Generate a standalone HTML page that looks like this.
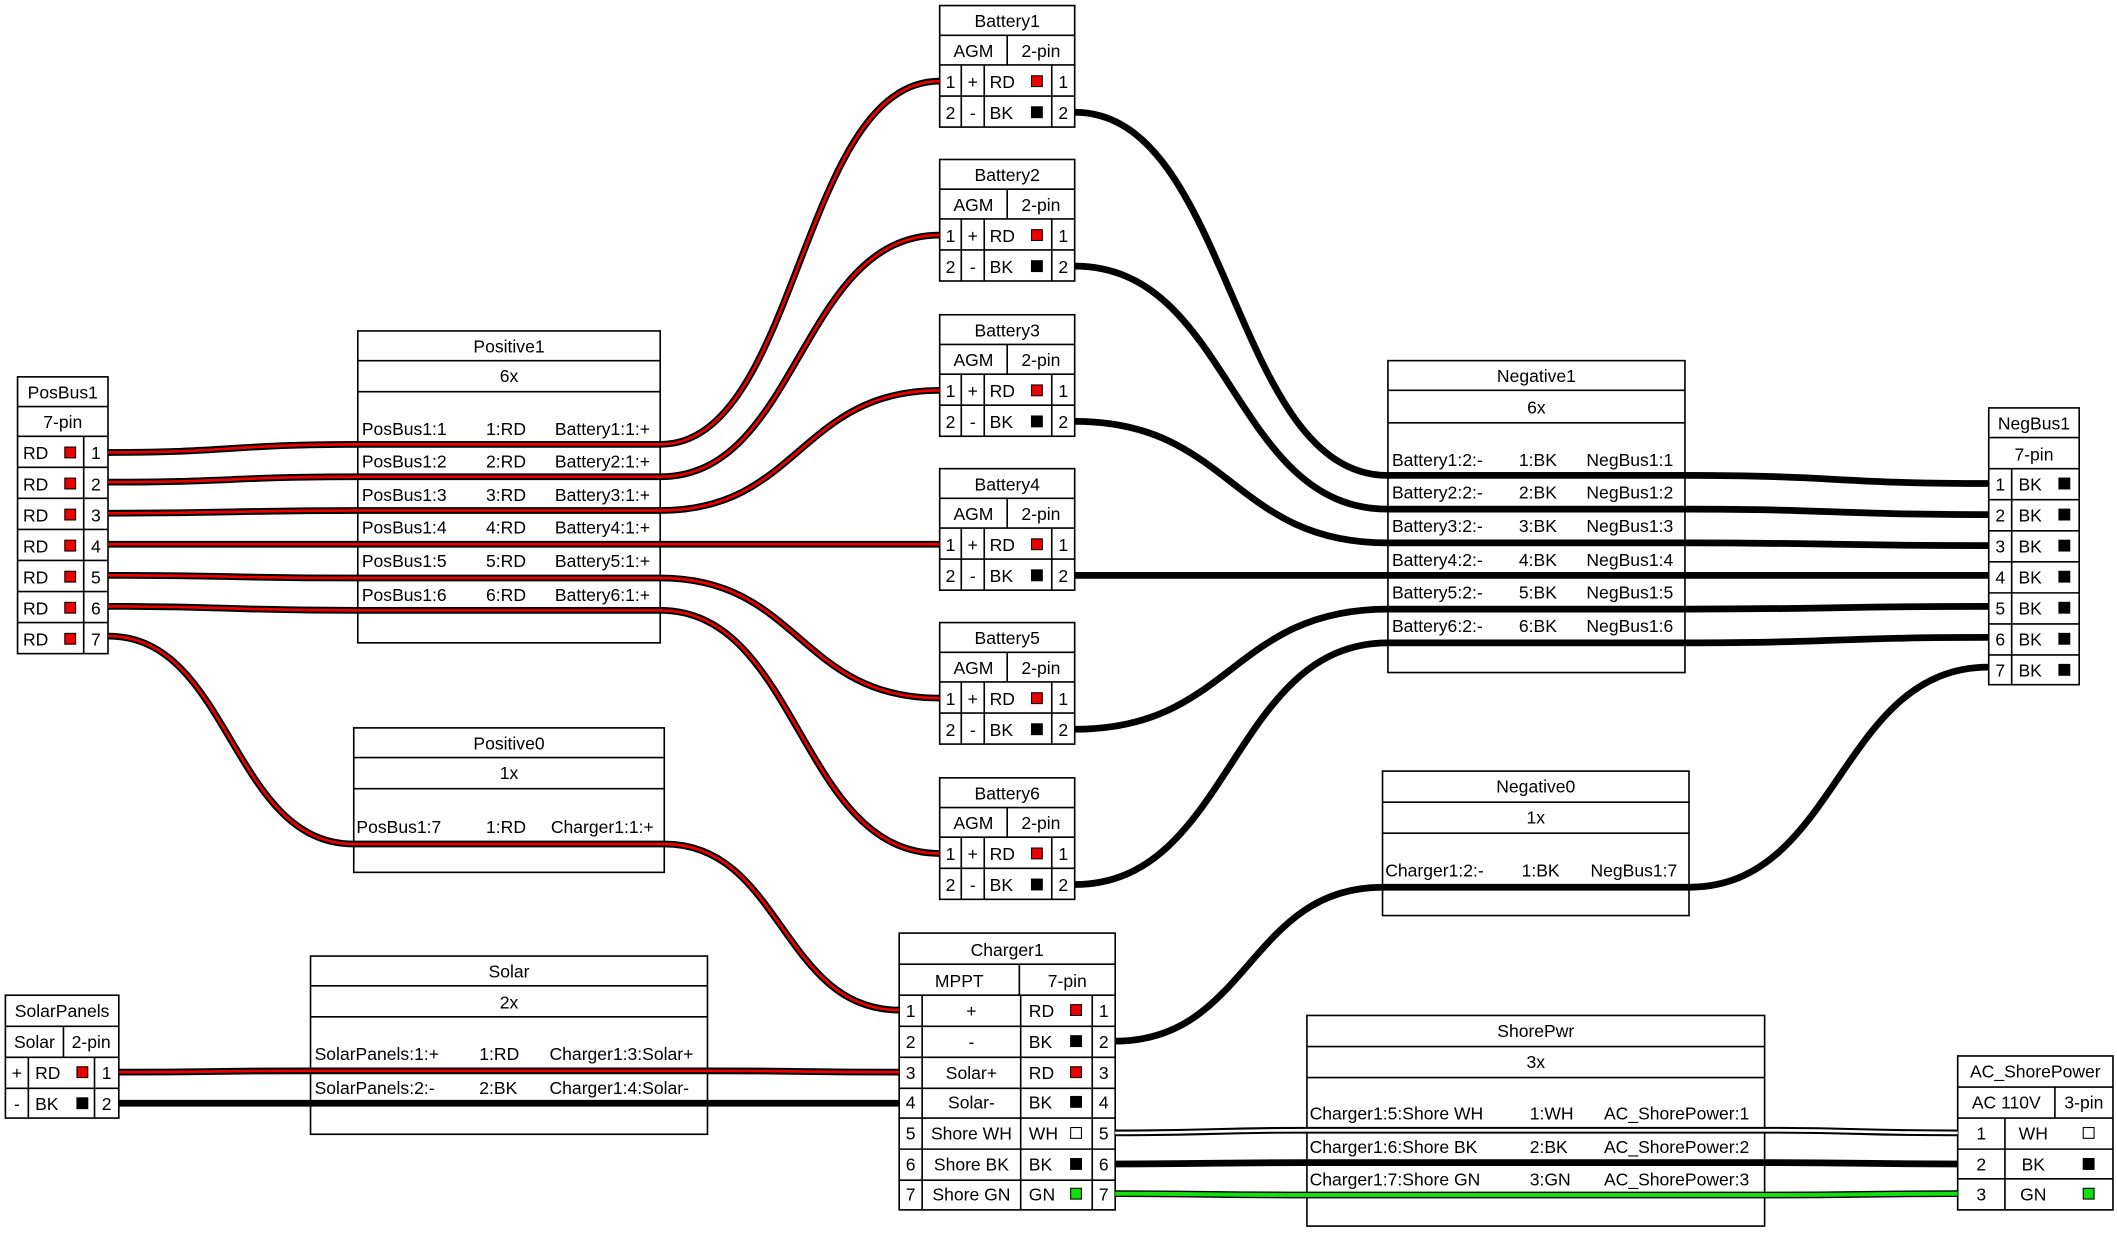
<!DOCTYPE html>
<html><head><meta charset="utf-8"><style>
html,body{margin:0;padding:0;background:#fff}
svg{display:block}
text{font-family:"Liberation Sans",Arial,sans-serif;font-size:13px;fill:#000}
.b{fill:#fff;stroke:#000;stroke-width:1.2}
.l{stroke:#000;stroke-width:1.2;fill:none}
.wo{fill:none;stroke:#000;stroke-width:5}
.wr{fill:none;stroke:#e00;stroke-width:2}
.ww{fill:none;stroke:#fff;stroke-width:2}
.wg{fill:none;stroke:#1d1;stroke-width:3}
.m{text-anchor:middle}
.sqr{fill:#e00;stroke:#000;stroke-width:.8}
.sqk{fill:#000;stroke:#000;stroke-width:.8}
.sqw{fill:#fff;stroke:#000;stroke-width:.8}
.sqg{fill:#1d1;stroke:#000;stroke-width:.8}
</style></head><body>
<svg width="2117" height="1233" viewBox="0 0 1568 913" xmlns="http://www.w3.org/2000/svg">

<!-- PosBus1 -->
<rect class="b" x="13" y="279" width="67" height="205"/>
<path class="l" d="M13 301H80M13 323H80M13 346H80M13 369H80M13 392H80M13 415H80M13 438H80M13 461H80M62 323V484"/>
<text class="m" x="46.5" y="295">PosBus1</text><text class="m" x="46.5" y="317">7-pin</text>
<g>
<text x="17" y="340">RD</text><rect class="sqr" x="48" y="331" width="8" height="8"/><text class="m" x="71" y="340">1</text>
<text x="17" y="363">RD</text><rect class="sqr" x="48" y="354" width="8" height="8"/><text class="m" x="71" y="363">2</text>
<text x="17" y="386">RD</text><rect class="sqr" x="48" y="377" width="8" height="8"/><text class="m" x="71" y="386">3</text>
<text x="17" y="409">RD</text><rect class="sqr" x="48" y="400" width="8" height="8"/><text class="m" x="71" y="409">4</text>
<text x="17" y="432">RD</text><rect class="sqr" x="48" y="423" width="8" height="8"/><text class="m" x="71" y="432">5</text>
<text x="17" y="455">RD</text><rect class="sqr" x="48" y="446" width="8" height="8"/><text class="m" x="71" y="455">6</text>
<text x="17" y="478">RD</text><rect class="sqr" x="48" y="469" width="8" height="8"/><text class="m" x="71" y="478">7</text>
</g>

<!-- Positive1 -->
<rect class="b" x="265" y="245" width="224" height="231"/>
<path class="l" d="M265 267H489M265 290H489"/>
<text class="m" x="377" y="261">Positive1</text><text class="m" x="377" y="283">6x</text>
<text x="268" y="322">PosBus1:1</text><text x="360" y="322">1:RD</text><text x="411" y="322">Battery1:1:+</text>
<text x="268" y="346">PosBus1:2</text><text x="360" y="346">2:RD</text><text x="411" y="346">Battery2:1:+</text>
<text x="268" y="371">PosBus1:3</text><text x="360" y="371">3:RD</text><text x="411" y="371">Battery3:1:+</text>
<text x="268" y="395">PosBus1:4</text><text x="360" y="395">4:RD</text><text x="411" y="395">Battery4:1:+</text>
<text x="268" y="420">PosBus1:5</text><text x="360" y="420">5:RD</text><text x="411" y="420">Battery5:1:+</text>
<text x="268" y="445">PosBus1:6</text><text x="360" y="445">6:RD</text><text x="411" y="445">Battery6:1:+</text>

<!-- Positive0 -->
<rect class="b" x="262" y="539" width="230" height="107"/>
<path class="l" d="M262 561H492M262 584H492"/>
<text class="m" x="377" y="555">Positive0</text><text class="m" x="377" y="577">1x</text>
<text x="264" y="617">PosBus1:7</text><text x="360" y="617">1:RD</text><text x="408" y="617">Charger1:1:+</text>

<!-- Solar -->
<rect class="b" x="230" y="708" width="294" height="132"/>
<path class="l" d="M230 730H524M230 753H524"/>
<text class="m" x="377" y="724">Solar</text><text class="m" x="377" y="747">2x</text>
<text x="233" y="785">SolarPanels:1:+</text><text x="355" y="785">1:RD</text><text x="407" y="785">Charger1:3:Solar+</text>
<text x="233" y="810">SolarPanels:2:-</text><text x="355" y="810">2:BK</text><text x="407" y="810">Charger1:4:Solar-</text>

<!-- SolarPanels -->
<rect class="b" x="4" y="737" width="84" height="91"/>
<path class="l" d="M4 760H88M4 783H88M4 806H88M47 760V783M21 783V828M70 783V828"/>
<text class="m" x="46" y="753">SolarPanels</text>
<text class="m" x="25.5" y="776">Solar</text><text class="m" x="67.5" y="776">2-pin</text>
<text class="m" x="12.5" y="799">+</text><text x="26" y="799">RD</text><rect class="sqr" x="57" y="790" width="8" height="8"/><text class="m" x="79" y="799">1</text>
<text class="m" x="12.5" y="822">-</text><text x="26" y="822">BK</text><rect class="sqk" x="57" y="813" width="8" height="8"/><text class="m" x="79" y="822">2</text>

<!-- Batteries -->
<g transform="translate(0,4)">
<rect class="b" x="696" y="0" width="100" height="90"/>
<path class="l" d="M696 22H796M696 44H796M696 67H796M746 22V44M712 44V90M729 44V90M779 44V90"/>
<text class="m" x="746" y="16">Battery1</text><text class="m" x="721" y="38">AGM</text><text class="m" x="771" y="38">2-pin</text>
<text class="m" x="704" y="61">1</text><text class="m" x="720.5" y="61">+</text><text x="733" y="61">RD</text><rect class="sqr" x="764" y="52" width="8" height="8"/><text class="m" x="787.5" y="61">1</text>
<text class="m" x="704" y="84">2</text><text class="m" x="720.5" y="84">-</text><text x="733" y="84">BK</text><rect class="sqk" x="764" y="75" width="8" height="8"/><text class="m" x="787.5" y="84">2</text>
</g>
<g transform="translate(0,118)">
<rect class="b" x="696" y="0" width="100" height="90"/>
<path class="l" d="M696 22H796M696 44H796M696 67H796M746 22V44M712 44V90M729 44V90M779 44V90"/>
<text class="m" x="746" y="16">Battery2</text><text class="m" x="721" y="38">AGM</text><text class="m" x="771" y="38">2-pin</text>
<text class="m" x="704" y="61">1</text><text class="m" x="720.5" y="61">+</text><text x="733" y="61">RD</text><rect class="sqr" x="764" y="52" width="8" height="8"/><text class="m" x="787.5" y="61">1</text>
<text class="m" x="704" y="84">2</text><text class="m" x="720.5" y="84">-</text><text x="733" y="84">BK</text><rect class="sqk" x="764" y="75" width="8" height="8"/><text class="m" x="787.5" y="84">2</text>
</g>
<g transform="translate(0,233)">
<rect class="b" x="696" y="0" width="100" height="90"/>
<path class="l" d="M696 22H796M696 44H796M696 67H796M746 22V44M712 44V90M729 44V90M779 44V90"/>
<text class="m" x="746" y="16">Battery3</text><text class="m" x="721" y="38">AGM</text><text class="m" x="771" y="38">2-pin</text>
<text class="m" x="704" y="61">1</text><text class="m" x="720.5" y="61">+</text><text x="733" y="61">RD</text><rect class="sqr" x="764" y="52" width="8" height="8"/><text class="m" x="787.5" y="61">1</text>
<text class="m" x="704" y="84">2</text><text class="m" x="720.5" y="84">-</text><text x="733" y="84">BK</text><rect class="sqk" x="764" y="75" width="8" height="8"/><text class="m" x="787.5" y="84">2</text>
</g>
<g transform="translate(0,347)">
<rect class="b" x="696" y="0" width="100" height="90"/>
<path class="l" d="M696 22H796M696 44H796M696 67H796M746 22V44M712 44V90M729 44V90M779 44V90"/>
<text class="m" x="746" y="16">Battery4</text><text class="m" x="721" y="38">AGM</text><text class="m" x="771" y="38">2-pin</text>
<text class="m" x="704" y="61">1</text><text class="m" x="720.5" y="61">+</text><text x="733" y="61">RD</text><rect class="sqr" x="764" y="52" width="8" height="8"/><text class="m" x="787.5" y="61">1</text>
<text class="m" x="704" y="84">2</text><text class="m" x="720.5" y="84">-</text><text x="733" y="84">BK</text><rect class="sqk" x="764" y="75" width="8" height="8"/><text class="m" x="787.5" y="84">2</text>
</g>
<g transform="translate(0,461)">
<rect class="b" x="696" y="0" width="100" height="90"/>
<path class="l" d="M696 22H796M696 44H796M696 67H796M746 22V44M712 44V90M729 44V90M779 44V90"/>
<text class="m" x="746" y="16">Battery5</text><text class="m" x="721" y="38">AGM</text><text class="m" x="771" y="38">2-pin</text>
<text class="m" x="704" y="61">1</text><text class="m" x="720.5" y="61">+</text><text x="733" y="61">RD</text><rect class="sqr" x="764" y="52" width="8" height="8"/><text class="m" x="787.5" y="61">1</text>
<text class="m" x="704" y="84">2</text><text class="m" x="720.5" y="84">-</text><text x="733" y="84">BK</text><rect class="sqk" x="764" y="75" width="8" height="8"/><text class="m" x="787.5" y="84">2</text>
</g>
<g transform="translate(0,576)">
<rect class="b" x="696" y="0" width="100" height="90"/>
<path class="l" d="M696 22H796M696 44H796M696 67H796M746 22V44M712 44V90M729 44V90M779 44V90"/>
<text class="m" x="746" y="16">Battery6</text><text class="m" x="721" y="38">AGM</text><text class="m" x="771" y="38">2-pin</text>
<text class="m" x="704" y="61">1</text><text class="m" x="720.5" y="61">+</text><text x="733" y="61">RD</text><rect class="sqr" x="764" y="52" width="8" height="8"/><text class="m" x="787.5" y="61">1</text>
<text class="m" x="704" y="84">2</text><text class="m" x="720.5" y="84">-</text><text x="733" y="84">BK</text><rect class="sqk" x="764" y="75" width="8" height="8"/><text class="m" x="787.5" y="84">2</text>
</g>

<!-- Charger1 -->
<rect class="b" x="666" y="691" width="160" height="205"/>
<path class="l" d="M666 714H826M666 737H826M666 760H826M666 783H826M666 806H826M666 828H826M666 851H826M666 874H826M755 714V737M683 737V896M756 737V896M809 737V896"/>
<text class="m" x="746" y="708">Charger1</text><text class="m" x="710.5" y="731">MPPT</text><text class="m" x="790.5" y="731">7-pin</text>
<text class="m" x="674.5" y="753">1</text><text class="m" x="719.5" y="753">+</text><text x="762" y="753">RD</text><rect class="sqr" x="793" y="744" width="8" height="8"/><text class="m" x="817.5" y="753">1</text>
<text class="m" x="674.5" y="776">2</text><text class="m" x="719.5" y="776">-</text><text x="762" y="776">BK</text><rect class="sqk" x="793" y="767" width="8" height="8"/><text class="m" x="817.5" y="776">2</text>
<text class="m" x="674.5" y="799">3</text><text class="m" x="719.5" y="799">Solar+</text><text x="762" y="799">RD</text><rect class="sqr" x="793" y="790" width="8" height="8"/><text class="m" x="817.5" y="799">3</text>
<text class="m" x="674.5" y="821">4</text><text class="m" x="719.5" y="821">Solar-</text><text x="762" y="821">BK</text><rect class="sqk" x="793" y="812" width="8" height="8"/><text class="m" x="817.5" y="821">4</text>
<text class="m" x="674.5" y="844">5</text><text class="m" x="719.5" y="844">Shore WH</text><text x="762" y="844">WH</text><rect class="sqw" x="793" y="835" width="8" height="8"/><text class="m" x="817.5" y="844">5</text>
<text class="m" x="674.5" y="867">6</text><text class="m" x="719.5" y="867">Shore BK</text><text x="762" y="867">BK</text><rect class="sqk" x="793" y="858" width="8" height="8"/><text class="m" x="817.5" y="867">6</text>
<text class="m" x="674.5" y="889">7</text><text class="m" x="719.5" y="889">Shore GN</text><text x="762" y="889">GN</text><rect class="sqg" x="793" y="880" width="8" height="8"/><text class="m" x="817.5" y="889">7</text>

<!-- Negative1 -->
<rect class="b" x="1028" y="267" width="220" height="231"/>
<path class="l" d="M1028 289H1248M1028 313H1248"/>
<text class="m" x="1138" y="283">Negative1</text><text class="m" x="1138" y="306">6x</text>
<text x="1031" y="345">Battery1:2:-</text><text x="1125" y="345">1:BK</text><text x="1175" y="345">NegBus1:1</text>
<text x="1031" y="369">Battery2:2:-</text><text x="1125" y="369">2:BK</text><text x="1175" y="369">NegBus1:2</text>
<text x="1031" y="394">Battery3:2:-</text><text x="1125" y="394">3:BK</text><text x="1175" y="394">NegBus1:3</text>
<text x="1031" y="419">Battery4:2:-</text><text x="1125" y="419">4:BK</text><text x="1175" y="419">NegBus1:4</text>
<text x="1031" y="443">Battery5:2:-</text><text x="1125" y="443">5:BK</text><text x="1175" y="443">NegBus1:5</text>
<text x="1031" y="468">Battery6:2:-</text><text x="1125" y="468">6:BK</text><text x="1175" y="468">NegBus1:6</text>

<!-- Negative0 -->
<rect class="b" x="1024" y="571" width="227" height="107"/>
<path class="l" d="M1024 594H1251M1024 617H1251"/>
<text class="m" x="1137.5" y="587">Negative0</text><text class="m" x="1137.5" y="610">1x</text>
<text x="1026" y="649">Charger1:2:-</text><text x="1127" y="649">1:BK</text><text x="1178" y="649">NegBus1:7</text>

<!-- ShorePwr -->
<rect class="b" x="968" y="752" width="339" height="156"/>
<path class="l" d="M968 775H1307M968 798H1307"/>
<text class="m" x="1137.5" y="768">ShorePwr</text><text class="m" x="1137.5" y="791">3x</text>
<text x="970" y="829">Charger1:5:Shore WH</text><text x="1133" y="829">1:WH</text><text x="1188" y="829">AC_ShorePower:1</text>
<text x="970" y="854">Charger1:6:Shore BK</text><text x="1133" y="854">2:BK</text><text x="1188" y="854">AC_ShorePower:2</text>
<text x="970" y="878">Charger1:7:Shore GN</text><text x="1133" y="878">3:GN</text><text x="1188" y="878">AC_ShorePower:3</text>

<!-- NegBus1 -->
<rect class="b" x="1473" y="302" width="67" height="205"/>
<path class="l" d="M1473 324H1540M1473 347H1540M1473 370H1540M1473 393H1540M1473 416H1540M1473 439H1540M1473 462H1540M1473 485H1540M1490 347V507"/>
<text class="m" x="1506.5" y="318">NegBus1</text><text class="m" x="1506.5" y="341">7-pin</text>
<text class="m" x="1481.5" y="363">1</text><text x="1495" y="363">BK</text><rect class="sqk" x="1525" y="354" width="8" height="8"/>
<text class="m" x="1481.5" y="386">2</text><text x="1495" y="386">BK</text><rect class="sqk" x="1525" y="377" width="8" height="8"/>
<text class="m" x="1481.5" y="409">3</text><text x="1495" y="409">BK</text><rect class="sqk" x="1525" y="400" width="8" height="8"/>
<text class="m" x="1481.5" y="432">4</text><text x="1495" y="432">BK</text><rect class="sqk" x="1525" y="423" width="8" height="8"/>
<text class="m" x="1481.5" y="455">5</text><text x="1495" y="455">BK</text><rect class="sqk" x="1525" y="446" width="8" height="8"/>
<text class="m" x="1481.5" y="478">6</text><text x="1495" y="478">BK</text><rect class="sqk" x="1525" y="469" width="8" height="8"/>
<text class="m" x="1481.5" y="501">7</text><text x="1495" y="501">BK</text><rect class="sqk" x="1525" y="492" width="8" height="8"/>

<!-- AC_ShorePower -->
<rect class="b" x="1450" y="782" width="115" height="114"/>
<path class="l" d="M1450 805H1565M1450 828H1565M1450 851H1565M1450 873H1565M1522 805V828M1485 828V896"/>
<text class="m" x="1507.5" y="798">AC_ShorePower</text>
<text class="m" x="1486" y="821">AC 110V</text><text class="m" x="1543.5" y="821">3-pin</text>
<text class="m" x="1467.5" y="844">1</text><text class="m" x="1506" y="844">WH</text><rect class="sqw" x="1543" y="835" width="8" height="8"/>
<text class="m" x="1467.5" y="867">2</text><text class="m" x="1506" y="867">BK</text><rect class="sqk" x="1543" y="858" width="8" height="8"/>
<text class="m" x="1467.5" y="889">3</text><text class="m" x="1506" y="889">GN</text><rect class="sqg" x="1543" y="880" width="8" height="8"/>

<!-- WIRES -->
<g class="wo">
<path d="M80 335C172 335 172 329 265 329L489 329C592 329 592 60 696 60"/>
<path d="M80 357C172 357 172 353 265 353L489 353C592 353 592 174 696 174"/>
<path d="M80 380C172 380 172 378 265 378L489 378C592 378 592 289 696 289"/>
<path d="M80 403L696 403"/>
<path d="M80 426C172 426 172 428 265 428L489 428C592 428 592 517 696 517"/>
<path d="M80 449C172 449 172 452 265 452L489 452C592 452 592 632 696 632"/>
<path d="M80 471C171 471 171 625 262 625L492 625C579 625 579 748 666 748"/>
<path d="M88 794C159 794 159 793 230 793L524 793C595 793 595 794 666 794"/>
<path d="M796 83C912 83 912 352 1028 352L1248 352C1360 352 1360 358 1473 358"/>
<path d="M796 197C912 197 912 377 1028 377L1248 377C1360 377 1360 381 1473 381"/>
<path d="M796 312C912 312 912 402 1028 402L1248 402C1360 402 1360 404 1473 404"/>
<path d="M796 426L1473 426"/>
<path d="M796 540C912 540 912 451 1028 451L1248 451C1360 451 1360 449 1473 449"/>
<path d="M796 655C912 655 912 476 1028 476L1248 476C1360 476 1360 472 1473 472"/>
<path d="M826 771C925 771 925 657 1024 657L1251 657C1362 657 1362 494 1473 494"/>
<path d="M88 817L666 817"/>
<path d="M826 839C897 839 897 837 968 837L1307 837C1378 837 1378 839 1450 839"/>
<path d="M826 862C897 862 897 861 968 861L1307 861C1378 861 1378 862 1450 862"/>
<path d="M826 884C897 884 897 885 968 885L1307 885C1378 885 1378 884 1450 884"/>
</g>
<g class="wr">
<path d="M80 335C172 335 172 329 265 329L489 329C592 329 592 60 696 60"/>
<path d="M80 357C172 357 172 353 265 353L489 353C592 353 592 174 696 174"/>
<path d="M80 380C172 380 172 378 265 378L489 378C592 378 592 289 696 289"/>
<path d="M80 403L696 403"/>
<path d="M80 426C172 426 172 428 265 428L489 428C592 428 592 517 696 517"/>
<path d="M80 449C172 449 172 452 265 452L489 452C592 452 592 632 696 632"/>
<path d="M80 471C171 471 171 625 262 625L492 625C579 625 579 748 666 748"/>
<path d="M88 794C159 794 159 793 230 793L524 793C595 793 595 794 666 794"/>
</g>
<path class="ww" d="M826 839C897 839 897 837 968 837L1307 837C1378 837 1378 839 1450 839"/>
<path class="wg" d="M826 884C897 884 897 885 968 885L1307 885C1378 885 1378 884 1450 884"/>
</svg>
</body></html>
